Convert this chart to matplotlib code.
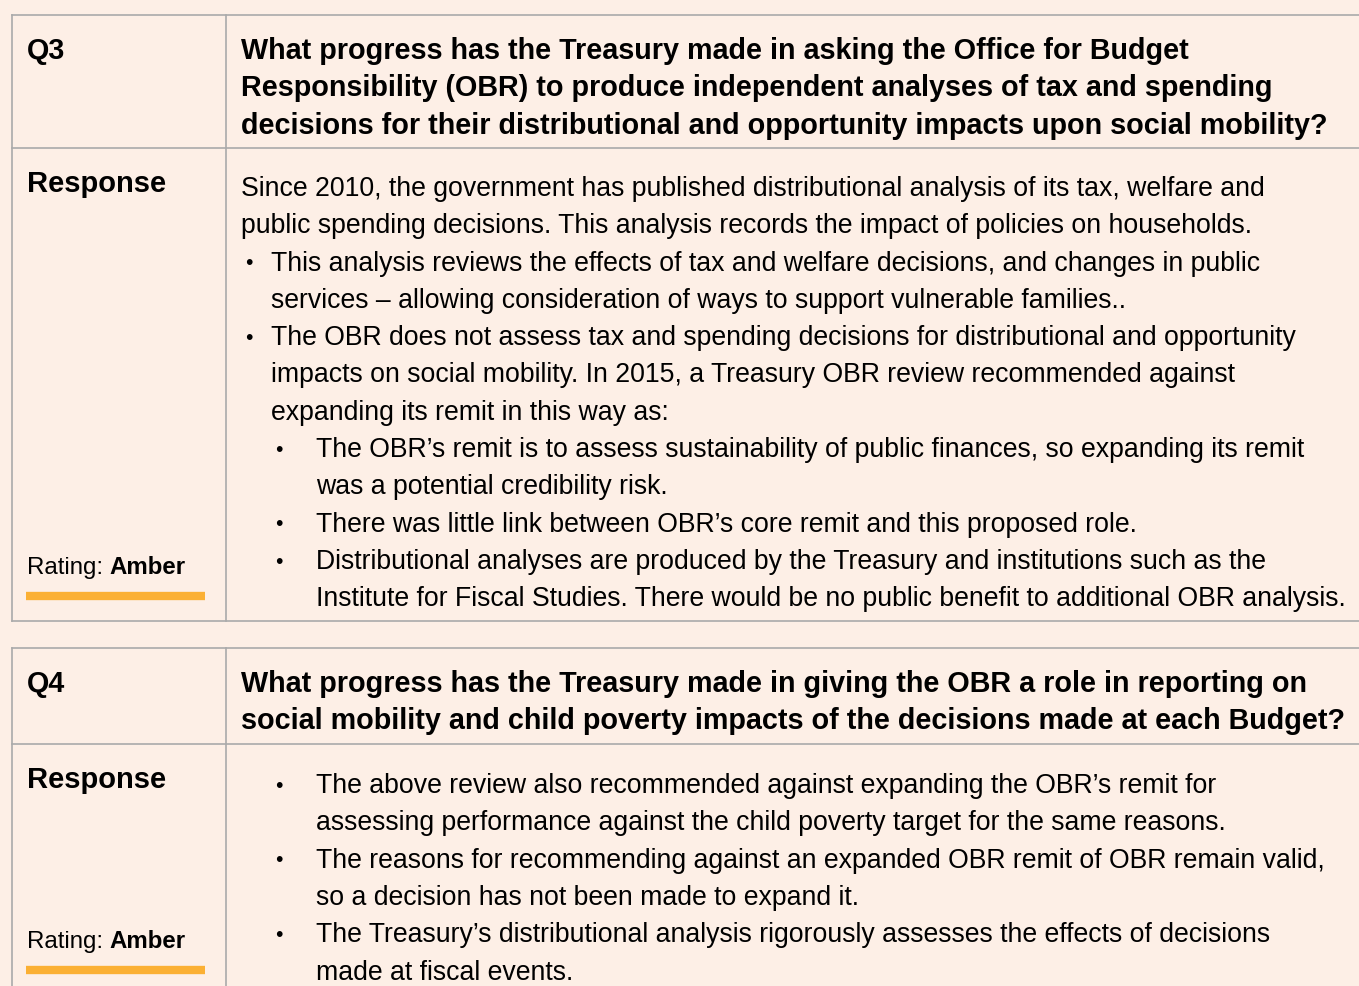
import matplotlib
matplotlib.use('agg')
import matplotlib.pyplot as plt

# question ids, question text, response lines (indent level, text)
q_ids = ["Q3", "Q4"]
q3_question = [
    "What progress has the Treasury made in asking the Office for Budget",
    "Responsibility (OBR) to produce independent analyses of tax and spending",
    "decisions for their distributional and opportunity impacts upon social mobility?",
]
q3_response = [
    (0, "Since 2010, the government has published distributional analysis of its tax, welfare and"),
    (0, "public spending decisions. This analysis records the impact of policies on households."),
    (1, "This analysis reviews the effects of tax and welfare decisions, and changes in public"),
    (-1, "services \u2013 allowing consideration of ways to support vulnerable families.."),
    (1, "The OBR does not assess tax and spending decisions for distributional and opportunity"),
    (-1, "impacts on social mobility. In 2015, a Treasury OBR review recommended against"),
    (-1, "expanding its remit in this way as:"),
    (2, "The OBR\u2019s remit is to assess sustainability of public finances, so expanding its remit"),
    (-2, "was a potential credibility risk."),
    (2, "There was little link between OBR\u2019s core remit and this proposed role."),
    (2, "Distributional analyses are produced by the Treasury and institutions such as the"),
    (-2, "Institute for Fiscal Studies. There would be no public benefit to additional OBR analysis."),
]
q4_question = [
    "What progress has the Treasury made in giving the OBR a role in reporting on",
    "social mobility and child poverty impacts of the decisions made at each Budget?",
]
q4_response = [
    (2, "The above review also recommended against expanding the OBR\u2019s remit for"),
    (-2, "assessing performance against the child poverty target for the same reasons."),
    (2, "The reasons for recommending against an expanded OBR remit of OBR remain valid,"),
    (-2, "so a decision has not been made to expand it."),
    (2, "The Treasury\u2019s distributional analysis rigorously assesses the effects of decisions"),
    (-2, "made at fiscal events."),
]
ratings = ["Amber", "Amber"]

bg = "#fdefe6"
grid = "#aaaaaa"
amber = "#fbb034"
font = "Liberation Sans"

fig = plt.figure(figsize=(13.59, 9.86), dpi=100)
fig.patch.set_facecolor(bg)
ax = fig.add_axes([0, 0, 1, 1])
ax.set_xlim(0, 1359)
ax.set_ylim(986, 0)
ax.axis('off')

step = 37.3
body_fs = 19.15
head_fs = 20.7
label_fs = 21
rating_fs = 17.3
bullet_x = {1: 245, 2: 275}
text_x = {0: 241, 1: 271, 2: 316}


def draw_table(top, mid, bottom, qid, question, response, rating, resp_y, rating_y):
    lw = 1.2
    ax.plot([12, 1370], [top, top], color=grid, lw=lw)
    ax.plot([12, 1370], [mid, mid], color=grid, lw=lw)
    ax.plot([12, 1370], [bottom, bottom], color=grid, lw=lw)
    ax.plot([12, 12], [top, bottom], color=grid, lw=lw)
    ax.plot([226, 226], [top, bottom], color=grid, lw=lw)
    ax.text(27, top + 36, qid, fontsize=head_fs, fontweight='bold', family=font, va='center')
    for i, line in enumerate(question):
        ax.text(241, top + 36 + i * step, line, fontsize=head_fs, fontweight='bold',
                family=font, va='center')
    ax.text(27, mid + 36, "Response", fontsize=label_fs, fontweight='bold', family=font, va='center')
    for i, (lvl, line) in enumerate(response):
        y = resp_y + i * step
        if lvl > 0:
            ax.text(bullet_x[lvl], y, "\u2022", fontsize=body_fs * 0.8, family=font, va='center')
        ax.text(text_x[abs(lvl)], y, line, fontsize=body_fs, family=font, va='center')
    t = ax.text(27, rating_y, "Rating: ", fontsize=rating_fs, family=font, va='center')
    ax.annotate(rating, xycoords=t, xy=(1, 0), va='bottom', fontsize=rating_fs,
                fontweight='bold', family=font)
    ax.plot([26, 205], [rating_y + 28, rating_y + 28], color=amber, lw=6, solid_capstyle='butt')


draw_table(15, 148, 621, q_ids[0], q3_question, q3_response, ratings[0], 189, 568)
draw_table(648, 744, 1100, q_ids[1], q4_question, q4_response, ratings[1], 786, 942)

fig.savefig("out.png", dpi=100, facecolor=bg)
